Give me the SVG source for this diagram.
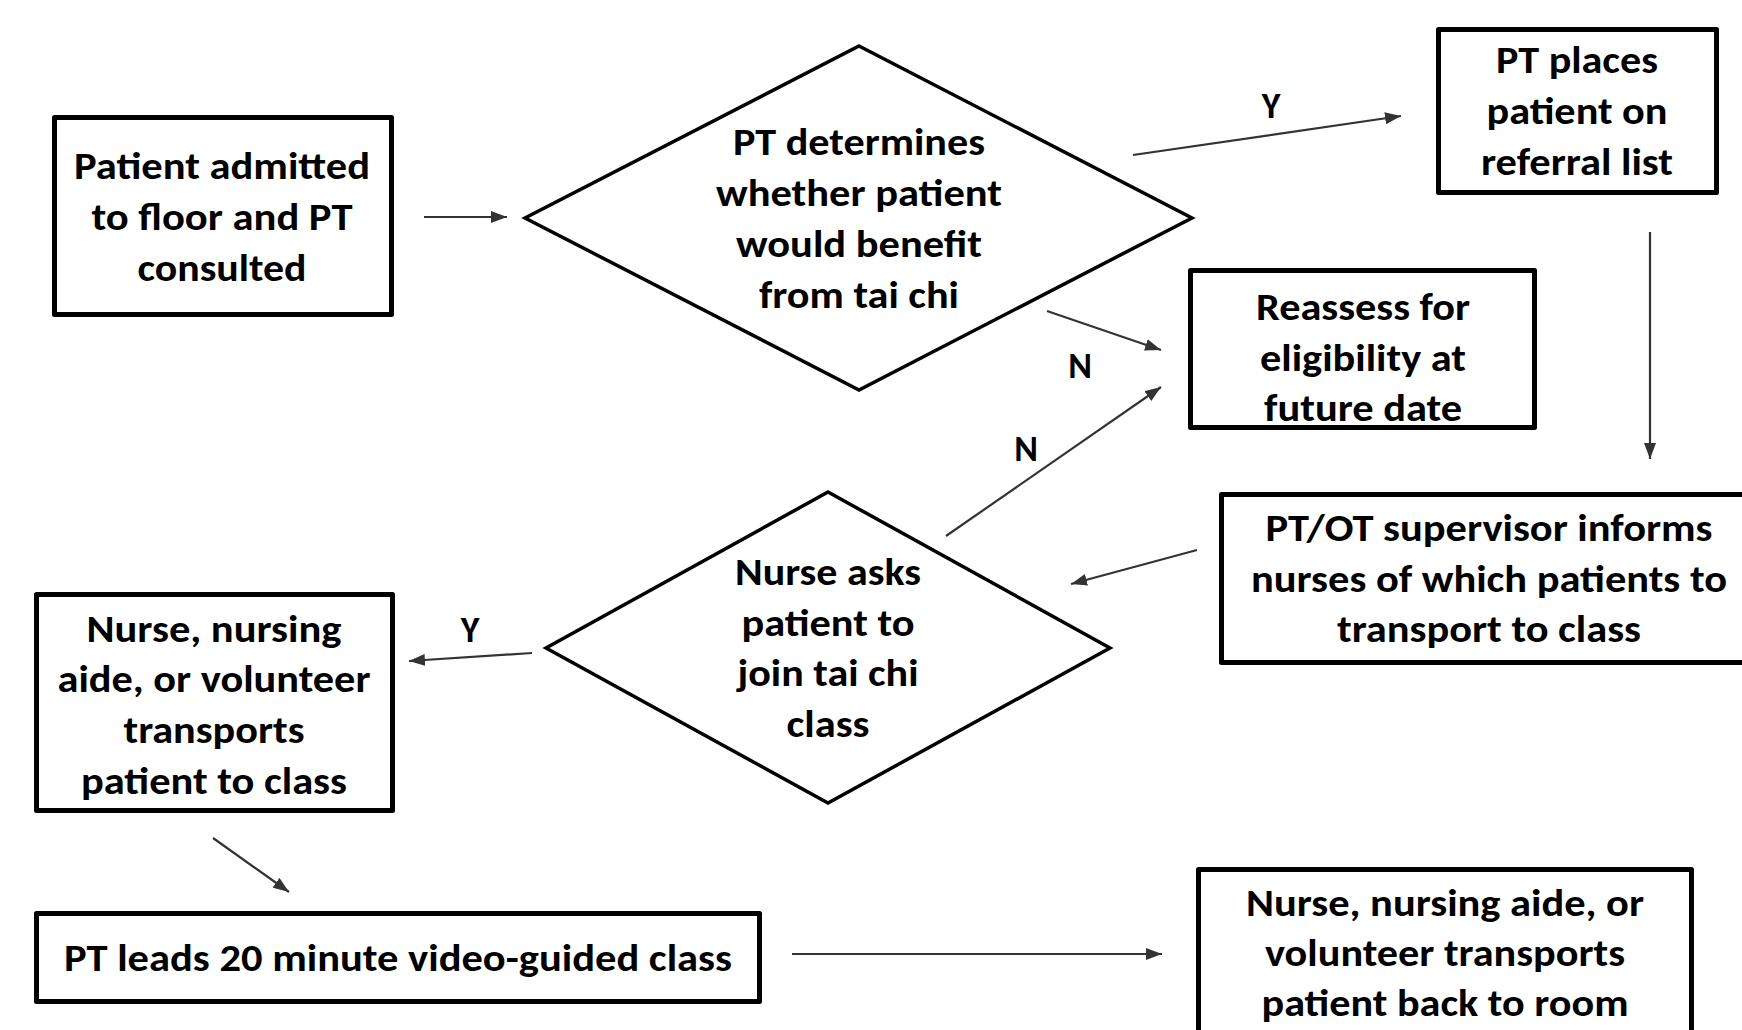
<svg xmlns="http://www.w3.org/2000/svg" width="1742" height="1030" viewBox="0 0 1742 1030">
  <style>
    .box { fill: #fff; stroke: #000; stroke-width: 5; stroke-linejoin: round; }
    .dia { fill: #fff; stroke: #000; stroke-width: 3.5; stroke-linejoin: miter; }
    .t { font-family: Carlito, Lato, "Open Sans", "Liberation Sans", sans-serif; font-weight: 700; font-size: 38px; fill: #000; text-anchor: middle; }
    .lbl { font-family: Carlito, Lato, "Open Sans", "Liberation Sans", sans-serif; font-weight: 700; font-size: 36px; fill: #000; text-anchor: middle; }
    .c { stroke: #333; stroke-width: 2.2; fill: none; marker-end: url(#ah); }
  </style>
  <defs>
    <marker id="ah" markerUnits="userSpaceOnUse" markerWidth="16" markerHeight="12" refX="16" refY="6" orient="auto">
      <path d="M0,0 L16,6 L0,12 z" fill="#333"/>
    </marker>
  </defs>
  <rect width="1742" height="1030" fill="#fff"/>

  <!-- connectors -->
  <g id="connectors">
    <line class="c" x1="424" y1="217" x2="507" y2="217"/>
    <line class="c" x1="1133" y1="155" x2="1401" y2="116"/>
    <line class="c" x1="1047" y1="311" x2="1161" y2="350"/>
    <line class="c" x1="946" y1="536" x2="1161" y2="387"/>
    <line class="c" x1="1650" y1="232" x2="1650" y2="459"/>
    <line class="c" x1="1197" y1="550" x2="1071" y2="584"/>
    <line class="c" x1="532" y1="653" x2="409" y2="661"/>
    <line class="c" x1="213" y1="838" x2="289" y2="892"/>
    <line class="c" x1="792" y1="954" x2="1162" y2="954"/>
    <text class="lbl" x="1271" y="118">Y</text>
    <text class="lbl" x="1080" y="378">N</text>
    <text class="lbl" x="1026" y="461">N</text>
    <text class="lbl" x="470" y="642">Y</text>
  </g>

  <!-- start -->
  <g id="admitted">
    <rect class="box" x="54.5" y="117.5" width="337" height="197"/>
    <text class="t" x="222" y="179" textLength="296" lengthAdjust="spacingAndGlyphs">Patient admitted</text>
    <text class="t" x="222" y="230" textLength="261" lengthAdjust="spacingAndGlyphs">to floor and PT</text>
    <text class="t" x="222" y="281" textLength="169" lengthAdjust="spacingAndGlyphs">consulted</text>
  </g>

  <g id="pt-decision">
    <polygon class="dia" points="859,46 1192,218 859,390 525,218"/>
    <text class="t" x="859" y="155" textLength="252" lengthAdjust="spacingAndGlyphs">PT determines</text>
    <text class="t" x="859" y="206" textLength="286" lengthAdjust="spacingAndGlyphs">whether patient</text>
    <text class="t" x="859" y="257" textLength="246" lengthAdjust="spacingAndGlyphs">would benefit</text>
    <text class="t" x="859" y="308" textLength="200" lengthAdjust="spacingAndGlyphs">from tai chi</text>
  </g>

  <g id="referral">
    <rect class="box" x="1438.5" y="29.5" width="278" height="163"/>
    <text class="t" x="1577" y="73" textLength="162" lengthAdjust="spacingAndGlyphs">PT places</text>
    <text class="t" x="1577" y="124" textLength="181" lengthAdjust="spacingAndGlyphs">patient on</text>
    <text class="t" x="1577" y="175" textLength="192" lengthAdjust="spacingAndGlyphs">referral list</text>
  </g>

  <g id="reassess">
    <rect class="box" x="1190.5" y="270.5" width="344" height="157"/>
    <text class="t" x="1363" y="320" textLength="214" lengthAdjust="spacingAndGlyphs">Reassess for</text>
    <text class="t" x="1363" y="371" textLength="206" lengthAdjust="spacingAndGlyphs">eligibility at</text>
    <text class="t" x="1363" y="421" textLength="198" lengthAdjust="spacingAndGlyphs">future date</text>
  </g>

  <g id="supervisor">
    <rect class="box" x="1221.5" y="494.5" width="600" height="168"/>
    <text class="t" x="1489" y="541" textLength="447" lengthAdjust="spacingAndGlyphs">PT/OT supervisor informs</text>
    <text class="t" x="1489" y="592" textLength="476" lengthAdjust="spacingAndGlyphs">nurses of which patients to</text>
    <text class="t" x="1489" y="642" textLength="304" lengthAdjust="spacingAndGlyphs">transport to class</text>
  </g>

  <g id="nurse-decision">
    <polygon class="dia" points="828,492 1110,648 828,803 546,648"/>
    <text class="t" x="828" y="585" textLength="186" lengthAdjust="spacingAndGlyphs">Nurse asks</text>
    <text class="t" x="828" y="636" textLength="173" lengthAdjust="spacingAndGlyphs">patient to</text>
    <text class="t" x="828" y="686" textLength="181" lengthAdjust="spacingAndGlyphs">join tai chi</text>
    <text class="t" x="828" y="737" textLength="83" lengthAdjust="spacingAndGlyphs">class</text>
  </g>

  <g id="transport-to">
    <rect class="box" x="36.5" y="594.5" width="356" height="216"/>
    <text class="t" x="214" y="642" textLength="255" lengthAdjust="spacingAndGlyphs">Nurse, nursing</text>
    <text class="t" x="214" y="692" textLength="313" lengthAdjust="spacingAndGlyphs">aide, or volunteer</text>
    <text class="t" x="214" y="743" textLength="181" lengthAdjust="spacingAndGlyphs">transports</text>
    <text class="t" x="214" y="794" textLength="266" lengthAdjust="spacingAndGlyphs">patient to class</text>
  </g>

  <g id="class">
    <rect class="box" x="36.5" y="913.5" width="723" height="88"/>
    <text class="t" x="398" y="971" textLength="668" lengthAdjust="spacingAndGlyphs">PT leads 20 minute video-guided class</text>
  </g>

  <g id="transport-back">
    <rect class="box" x="1198.5" y="869.5" width="493" height="200"/>
    <text class="t" x="1445" y="916" textLength="398" lengthAdjust="spacingAndGlyphs">Nurse, nursing aide, or</text>
    <text class="t" x="1445" y="966" textLength="360" lengthAdjust="spacingAndGlyphs">volunteer transports</text>
    <text class="t" x="1445" y="1016" textLength="367" lengthAdjust="spacingAndGlyphs">patient back to room</text>
  </g>
</svg>
